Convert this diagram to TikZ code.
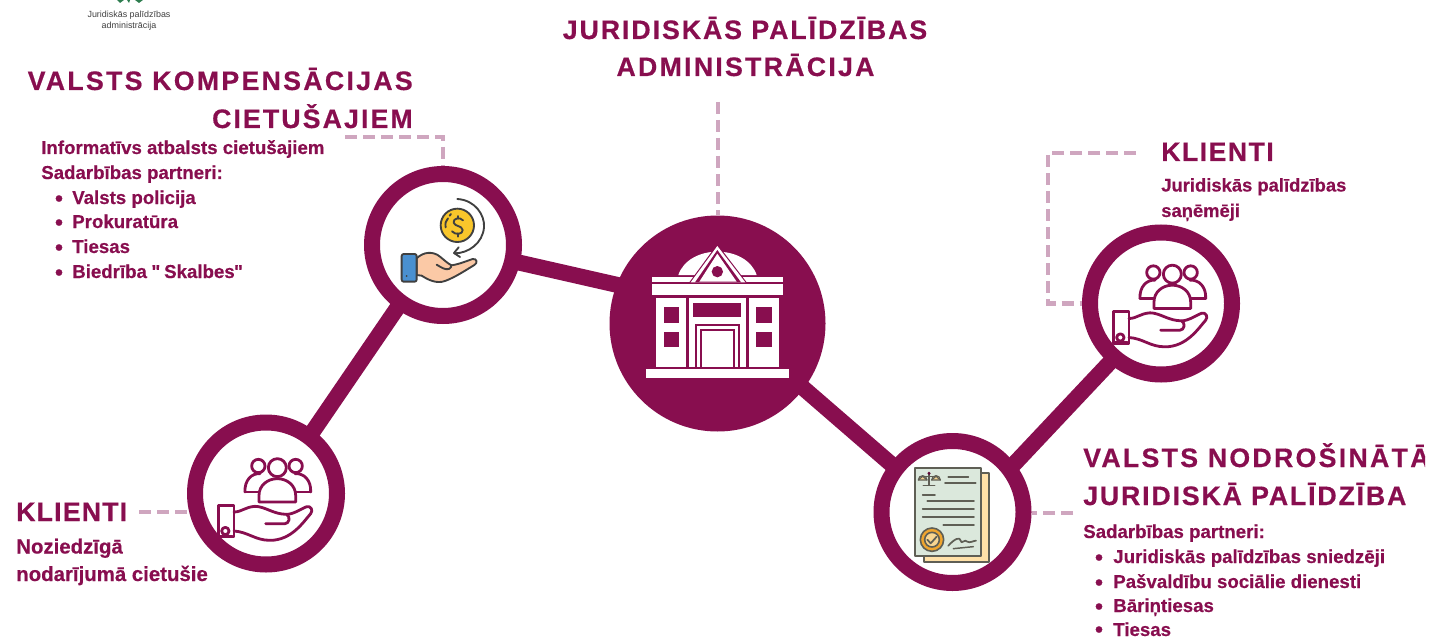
\documentclass[tikz,border=0pt]{standalone}
\usepackage{fontspec}
\setmainfont{Liberation Sans}
\newfontfamily\bodyfont[BoldFeatures={FakeBold=0.4}]{Liberation Sans}
\newfontfamily\headfont[BoldFeatures={FakeBold=0.5}]{Liberation Sans}
\definecolor{plum}{HTML}{880E4F}
\definecolor{dashc}{HTML}{CFA6BF}
\definecolor{inkc}{HTML}{5F5F55}
\definecolor{darkc}{HTML}{404040}
\definecolor{coinc}{HTML}{F9C62B}
\definecolor{skinc}{HTML}{FBC9A6}
\definecolor{cuffc}{HTML}{4A90D0}
\definecolor{pagea}{HTML}{DBE8DC}
\definecolor{pageb}{HTML}{FFE1A8}
\definecolor{sealc}{HTML}{EFA52F}
\definecolor{sealb}{HTML}{F8D591}
\definecolor{logog}{HTML}{2E7D4F}
\newcommand{\headsize}{\fontsize{20}{24}\selectfont\headfont\bfseries}
\newcommand{\bodysize}{\fontsize{14}{16}\selectfont\bodyfont\bfseries}
\newcommand{\ls}[2]{{\addfontfeature{LetterSpace=#1}#2}}
\tikzset{
  x=0.75pt,y=-0.75pt,
  ring/.style={circle,draw=plum,fill=white,line width=12pt,minimum size=106.5pt,inner sep=0pt},
  hub/.style={circle,fill=plum,minimum size=162pt,inner sep=0pt},
  link/.style={draw=plum,line width=12pt,shorten <=-4pt,shorten >=-4pt},
  dashlink/.style={draw=dashc,line width=3.4pt,dash pattern=on 9pt off 4.5pt},
  head/.style={text=plum,inner sep=0pt,font=\headsize},
  body/.style={text=plum,inner sep=0pt,font=\bodysize},
  bodylarge/.style={text=plum,inner sep=0pt,font=\fontsize{15.3}{18}\selectfont\bodyfont\bfseries},
  bodytight/.style={text=plum,inner sep=0pt,font=\fontsize{13.8}{16}\selectfont\bodyfont\bfseries},
  dot/.style={text=plum,inner sep=0pt,font=\fontsize{17}{18}\selectfont\bodyfont\bfseries},
  logotxt/.style={text=darkc,inner sep=0pt,font=\fontsize{6.7}{8}\selectfont},
  pics/clienticon/.style={code={
    \begin{scope}[scale=1/3,shift={(-363,-520)},draw=plum,line width=2.1pt,line join=round,line cap=round]
      \draw (340,427) circle (20);
      \draw (452,427) circle (20);
      \draw (300,505) .. controls (298,470) and (320,448) .. (345,450);
      \draw (300,505) -- (345,505);
      \draw (497,505) .. controls (499,470) and (477,448) .. (450,450);
      \draw (497,505) -- (450,505);
      \draw[fill=white] (397,432) circle (27);
      \draw[fill=white] (342,535) -- (342,515) .. controls (342,485) and (368,465) .. (397,465) .. controls (426,465) and (452,485) .. (452,515) -- (452,535) -- cycle;
      \draw (220,545) rectangle (267,640);
      \draw (241,622) circle (11);
      \draw (222,637) -- (262,637);
      \draw (267,565) .. controls (290,565) and (300,550) .. (330,548) .. controls (360,548) and (385,572) .. (425,572)
        .. controls (445,572) and (470,555) .. (485,549) .. controls (498,546) and (505,560) .. (497,570)
        .. controls (475,595) and (440,650) .. (375,650) .. controls (330,650) and (310,625) .. (267,622);
      \draw (362,600) -- (420,600) .. controls (432,600) and (438,580) .. (425,572);
    \end{scope}
  }},
}
\begin{document}
\begin{tikzpicture}
\useasboundingbox (0,0) rectangle (1430,638);
\fill[white] (0,0) rectangle (1430,638);

% logo remnant
\fill[logog] (117,0) -- (124,0) -- (120,3) -- cycle;
\fill[logog] (127,0) -- (130,0) -- (129,3) -- cycle;
\fill[logog] (135,0) -- (143,0) -- (139,3) -- cycle;
\node[logotxt,anchor=base] (logoa) at (129,17.5) {Juridiskās palīdzības};
\node[logotxt,anchor=base] (logob) at (129,28.5) {administrācija};

% circles
\node[hub] (big) at (717.5,323.5) {};
\node[ring] (tl) at (443,245) {};
\node[ring] (bl) at (266,493.5) {};
\node[ring] (tr) at (1161,303.5) {};
\node[ring] (br) at (952.5,512) {};

% connectors
\draw[link] (bl.53.3) -- (tl.234.7);
\draw[link] (tl.-13) -- (big.159);
\draw[link] (big.-37.5) -- (br.142);
\draw[link] (br.38) -- (tr.229.4);

% dashed connectors
\coordinate (d1) at (345,137);
\coordinate (d2) at (718,102);
\coordinate (d3) at (1136,153);
\coordinate (d4) at (139,512);
\coordinate (d5) at (1073,513);
\draw[dashlink] (d1) -| (tl.north);
\draw[dashlink] (d2) -- (big.north -| d2);
\draw[dashlink] (d3) -- (1048,153) |- (tr.west);
\draw[dashlink] (d4) -- (bl.west |- d4);
\draw[dashlink] (d5) -- (br.east |- d5);

% headings
\node[head,anchor=base] (h0a) at (745,39) {\ls{7.4}{JURIDISKĀS PALĪDZĪBAS}};
\node[head,anchor=base] (h0b) at (745.5,76) {\ls{8.6}{ADMINISTRĀCIJA}};
\node[head,anchor=base east] (h1a) at (413,90) {\ls{8.7}{VALSTS KOMPENSĀCIJAS}};
\node[head,anchor=base east] (h1b) at (413,128) {\ls{8}{CIETUŠAJIEM}};
\node[head,anchor=base west] (h2) at (1161,161) {\ls{5.5}{KLIENTI}};
\node[head,anchor=base west] (h3) at (16,521) {\ls{4.5}{KLIENTI}};
\begin{scope}
  \clip (1000,440) rectangle (1425,480);
  \node[head,anchor=base west] (h4a) at (1083,467) {\ls{8.7}{VALSTS NODROŠINĀTĀ}};
\end{scope}
\node[head,anchor=base west] (h4b) at (1083,505) {\ls{7}{JURIDISKĀ PALĪDZĪBA}};

% body text
\node[body,anchor=base west] (t1) at (41,154) {Informatīvs atbalsts cietušajiem};
\node[body,anchor=base west] (t2) at (41,179) {Sadarbības partneri:};
\foreach \n/\y/\yd/\s in {a/204/206/Valsts policija,b/228/230/Prokuratūra,c/253/255/Tiesas,d/278/280/{Biedrība\kern-0.5pt\ "\kern-1pt\ Skalbes\kern-0.5pt"}}{
  \node[body,anchor=base west] (l\n) at (72,\y) {\s};
  \node[dot,anchor=base] (bu\n) at (59,\yd) {•};
}
\node[bodytight,anchor=base west] (t3) at (1161,191.5) {Juridiskās palīdzības};
\node[bodytight,anchor=base west] (t4) at (1161,217) {saņēmēji};
\node[bodylarge,anchor=base west] (t5) at (16,553.5) {Noziedzīgā};
\node[bodylarge,anchor=base west] (t6) at (16,581) {nodarījumā cietušie};
\node[body,anchor=base west] (t7) at (1083,538) {Sadarbības partneri:};
\foreach \n/\y/\yd/\s in {a/563/565/Juridiskās palīdzības sniedzēji,b/588/590/Pašvaldību sociālie dienesti,c/612/614/Bāriņtiesas,d/636/637/Tiesas}{
  \node[body,anchor=base west] (r\n) at (1113,\y) {\s};
  \node[dot,anchor=base] (bv\n) at (1099,\yd) {•};
}

% client icons
\pic at (1161,303.5) {clienticon};
\pic at (266,497) {clienticon};

% bank icon
\begin{scope}[shift={(717.5,323.5)},scale=1/3,shift={(-352.5,-340.5)}]
  \fill[white] (235,195) .. controls (250,150) and (300,125) .. (352,125) .. controls (405,125) and (455,150) .. (470,195) -- cycle;
  \fill[white] (155,200) rectangle (548,216);
  \fill[white] (157,222) rectangle (548,256);
  \fill[white] (168,263) rectangle (537,470);
  \fill[plum] (191,292) rectangle (238,340);
  \fill[plum] (191,365) rectangle (238,412);
  \fill[plum] (468,292) rectangle (515,340);
  \fill[plum] (468,365) rectangle (515,412);
  \fill[plum] (280,280) rectangle (424,320);
  \fill[plum] (259,263) rectangle (266,470);
  \fill[plum] (439,263) rectangle (446,470);
  \fill[plum] (285,342) rectangle (420,470);
  \fill[white] (291,348) rectangle (414,470);
  \fill[plum] (300,357) rectangle (405,470);
  \fill[white] (306,363) rectangle (399,470);
  \fill[white] (138,476) rectangle (566,505);
  \fill[plum] (352,102) -- (265,221) -- (443,221) -- cycle;
  \fill[white] (352,108) -- (272,217) -- (436,217) -- cycle;
  \fill[plum] (352,120) -- (285,217) -- (423,217) -- cycle;
  \fill[white] (352,131) -- (298,215) -- (410,215) -- cycle;
  \fill[plum] (352,185) circle (17);
\end{scope}

% money icon
\begin{scope}[shift={(443,245)},scale=1/3,shift={(-189,-165)},line join=round,line cap=round]
  \draw[darkc,line width=1.4pt] (232,27) .. controls (285,30) and (315,75) .. (312,112) .. controls (308,160) and (265,190) .. (224,190);
  \draw[darkc,line width=1.4pt] (236,172) -- (222,189) -- (240,201);
  \draw[darkc,fill=coinc,line width=1.4pt] (232,106) circle (50);
  \draw[darkc,line width=1.4pt] (197,112) .. controls (195,100) and (197,92) .. (204,85);
  \draw[darkc,line width=1.4pt] (209,77) -- (213,72);
  \draw[darkc,line width=1.4pt] (249,91) .. controls (240,80) and (218,85) .. (221,98) .. controls (224,110) and (246,106) .. (248,120) .. controls (249,133) and (226,136) .. (216,124);
  \draw[darkc,line width=1.4pt] (233,78) -- (233,86) (233,130) -- (233,140);
  \draw[darkc,fill=skinc,line width=1.4pt] (110,205) .. controls (130,185) and (160,183) .. (180,200) .. controls (195,212) and (205,222) .. (215,226)
    .. controls (240,222) and (262,212) .. (278,207) .. controls (292,205) and (293,220) .. (283,225)
    .. controls (255,242) and (225,262) .. (195,273) .. controls (170,282) and (145,270) .. (125,257) -- (110,255) -- cycle;
  \draw[darkc,line width=1.4pt] (170,224) .. controls (185,233) and (195,240) .. (207,237) .. controls (214,235) and (215,228) .. (212,224);
  \draw[darkc,fill=cuffc,line width=1.4pt,rounded corners=1.5pt] (65,192) rectangle (110,275);
  \fill[darkc] (80,258) circle (3);
\end{scope}

% document icon
\begin{scope}[shift={(952.5,512)},scale=1/3,shift={(-247.5,-246)},line join=round,line cap=round]
  \draw[inkc,fill=pageb,line width=1.4pt] (162,130) rectangle (358,397);
  \draw[inkc,fill=pagea,line width=1.4pt] (136,114) rectangle (333,378);
  \draw[inkc,line width=1.3pt] (235,141) -- (295,141) (225,160) -- (317,160) (158,195) -- (195,195)
     (172,212) -- (312,212) (158,236) -- (312,236) (158,260) -- (312,260) (220,284) -- (312,284);
  % scales
  \draw[inkc,line width=1.1pt] (177,130) -- (177,165) (150,139) -- (204,139) (160,167) -- (194,167);
  \fill[plum!70!black] (177,130) circle (5);
  \draw[inkc,fill=sealb,line width=0.9pt] (145,150) arc (180:360:13) -- cycle;
  \draw[inkc,fill=sealb,line width=0.9pt] (185,150) arc (180:360:13) -- cycle;
  \draw[inkc,line width=0.8pt] (158,139) -- (145,150) (158,139) -- (171,150) (198,139) -- (185,150) (198,139) -- (211,150);
  % seal
  \draw[inkc,fill=sealc,line width=1.2pt] (186,329) circle (35);
  \draw[inkc,fill=sealb,line width=1.2pt] (186,329) circle (22);
  \draw[inkc,line width=1.3pt] (172,329) -- (182,340) -- (200,320);
  % signature
  \draw[inkc,line width=1.3pt] (235,347) .. controls (255,325) and (270,320) .. (272,332) .. controls (273,345) and (285,325) .. (292,335) .. controls (300,340) and (310,332) .. (318,332);
  \draw[inkc,line width=1.1pt] (250,356) -- (310,350);
\end{scope}
\end{tikzpicture}
\end{document}
